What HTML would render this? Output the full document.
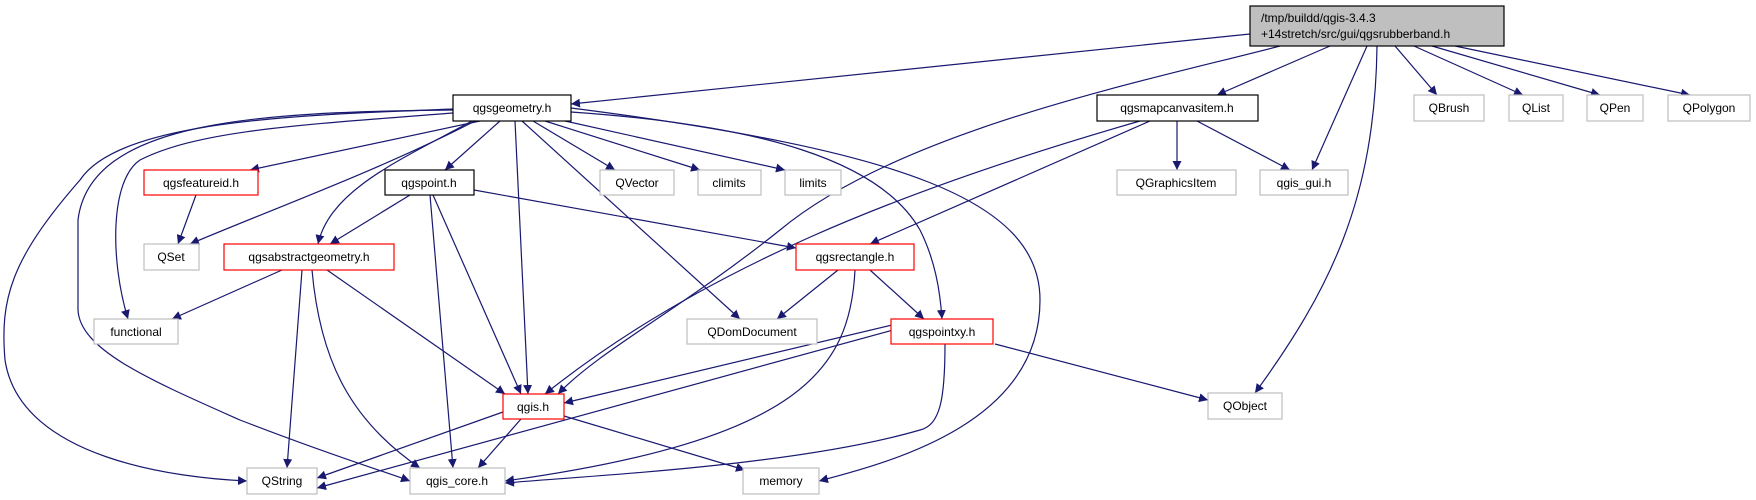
<!DOCTYPE html>
<html><head><meta charset="utf-8"><style>
html,body{margin:0;padding:0;background:#fff;}
svg{display:block;}
text{font-family:"Liberation Sans","DejaVu Sans",sans-serif;font-size:12px;fill:#000;}
.e{fill:none;stroke:#191970;stroke-width:1.2;marker-end:url(#a);}
.b{fill:#fff;stroke:#000;stroke-width:1.2;}
.g{fill:#fff;stroke:#bfbfbf;stroke-width:1.2;}
.r{fill:#fff;stroke:#ff0000;stroke-width:1.2;}
</style></head><body>
<svg width="1756" height="500" viewBox="0 0 1756 500" xmlns="http://www.w3.org/2000/svg">
<defs><marker id="a" viewBox="0 0 10 10" refX="10" refY="5" markerWidth="9" markerHeight="9" markerUnits="userSpaceOnUse" orient="auto"><path d="M0,0L10,5L0,10z" fill="#191970"/></marker></defs>
<!-- edges -->
<path class="e" d="M1250,34 L571,104"/>
<path class="e" d="M1280,46 C1150,80 900,130 780,230 C680,310 600,350 558,394"/>
<path class="e" d="M1330,46 L1217,95"/>
<path class="e" d="M1367,46 L1312,170"/>
<path class="e" d="M1377,46 C1375,200 1330,290 1255,393"/>
<path class="e" d="M1395,46 L1437,95"/>
<path class="e" d="M1414,46 L1523,95"/>
<path class="e" d="M1432,46 L1600,95"/>
<path class="e" d="M1455,46 L1690,95"/>
<path class="e" d="M1140,121 C900,190 700,270 545,394"/>
<path class="e" d="M1150,121 L870,244"/>
<path class="e" d="M1177,121 L1177,170"/>
<path class="e" d="M1197,121 L1290,170"/>
<path class="e" d="M480,121 L250,170"/>
<path class="e" d="M500,121 L445,170"/>
<path class="e" d="M475,121 C380,170 270,210 190,244"/>
<path class="e" d="M472,121 C400,160 330,190 318,244"/>
<path class="e" d="M515,121 L528,394"/>
<path class="e" d="M522,121 L740,319"/>
<path class="e" d="M533,121 L615,170"/>
<path class="e" d="M545,121 L700,170"/>
<path class="e" d="M565,121 L785,170"/>
<path class="e" d="M571,112 C760,125 880,160 920,230 C935,260 940,290 942,319"/>
<path class="e" d="M571,108 C900,150 1040,200 1040,300 C1040,420 900,460 819,481"/>
<path class="e" d="M453,109 C300,115 120,120 80,180 C10,260 0,300 5,360 C20,460 180,478 247,481"/>
<path class="e" d="M453,110 C260,112 90,120 78,220 L78,310 C80,350 150,380 240,420 C330,455 380,470 410,481"/>
<path class="e" d="M453,113 C300,125 200,130 140,160 C110,180 110,260 128,319"/>
<path class="e" d="M196,195 L178,244"/>
<path class="e" d="M410,195 L330,244"/>
<path class="e" d="M433,195 L521,394"/>
<path class="e" d="M430,195 L453,468"/>
<path class="e" d="M474,190 L796,248"/>
<path class="e" d="M282,270 L172,319"/>
<path class="e" d="M302,270 L287,468"/>
<path class="e" d="M312,270 C320,360 350,420 420,468"/>
<path class="e" d="M327,270 L505,394"/>
<path class="e" d="M838,270 L777,319"/>
<path class="e" d="M870,270 L924,319"/>
<path class="e" d="M855,270 C850,370 800,440 505,481"/>
<path class="e" d="M892,325 L564,403"/>
<path class="e" d="M893,330 L317,488"/>
<path class="e" d="M945,344 C945,400 940,425 920,430 C800,465 600,475 505,483"/>
<path class="e" d="M995,344 L1208,400"/>
<path class="e" d="M503,412 L317,478"/>
<path class="e" d="M521,419 L478,468"/>
<path class="e" d="M564,416 L745,470"/>
<!-- nodes -->
<rect x="1250" y="6" width="254" height="40" fill="#bfbfbf" stroke="#000" stroke-width="1.2"/>
<text x="1261" y="22">/tmp/buildd/qgis-3.4.3</text>
<text x="1261" y="38">+14stretch/src/gui/qgsrubberband.h</text>
<rect class="b" x="453" y="95" width="118" height="26"/><text x="512" y="112" text-anchor="middle">qgsgeometry.h</text>
<rect class="b" x="1097" y="95" width="161" height="26"/><text x="1177" y="112" text-anchor="middle">qgsmapcanvasitem.h</text>
<rect class="g" x="1414" y="95" width="70" height="26"/><text x="1449" y="112" text-anchor="middle">QBrush</text>
<rect class="g" x="1509" y="95" width="54" height="26"/><text x="1536" y="112" text-anchor="middle">QList</text>
<rect class="g" x="1587" y="95" width="56" height="26"/><text x="1615" y="112" text-anchor="middle">QPen</text>
<rect class="g" x="1668" y="95" width="82" height="26"/><text x="1709" y="112" text-anchor="middle">QPolygon</text>
<rect class="r" x="144" y="170" width="114" height="25"/><text x="201" y="187" text-anchor="middle">qgsfeatureid.h</text>
<rect class="b" x="385" y="170" width="89" height="25"/><text x="429" y="187" text-anchor="middle">qgspoint.h</text>
<rect class="g" x="600" y="170" width="74" height="25"/><text x="637" y="187" text-anchor="middle">QVector</text>
<rect class="g" x="698" y="170" width="63" height="25"/><text x="729" y="187" text-anchor="middle">climits</text>
<rect class="g" x="785" y="170" width="56" height="25"/><text x="813" y="187" text-anchor="middle">limits</text>
<rect class="g" x="1117" y="170" width="119" height="25"/><text x="1176" y="187" text-anchor="middle">QGraphicsItem</text>
<rect class="g" x="1260" y="170" width="88" height="25"/><text x="1304" y="187" text-anchor="middle">qgis_gui.h</text>
<rect class="g" x="144" y="244" width="55" height="26"/><text x="171" y="261" text-anchor="middle">QSet</text>
<rect class="r" x="224" y="244" width="170" height="26"/><text x="309" y="261" text-anchor="middle">qgsabstractgeometry.h</text>
<rect class="r" x="796" y="244" width="118" height="26"/><text x="855" y="261" text-anchor="middle">qgsrectangle.h</text>
<rect class="g" x="94" y="319" width="84" height="25"/><text x="136" y="336" text-anchor="middle">functional</text>
<rect class="g" x="687" y="319" width="130" height="25"/><text x="752" y="336" text-anchor="middle">QDomDocument</text>
<rect class="r" x="891" y="319" width="102" height="25"/><text x="942" y="336" text-anchor="middle">qgspointxy.h</text>
<rect class="r" x="503" y="394" width="61" height="25"/><text x="533" y="411" text-anchor="middle">qgis.h</text>
<rect class="g" x="1208" y="393" width="74" height="26"/><text x="1245" y="410" text-anchor="middle">QObject</text>
<rect class="g" x="247" y="468" width="70" height="26"/><text x="282" y="485" text-anchor="middle">QString</text>
<rect class="g" x="410" y="468" width="95" height="26"/><text x="457" y="485" text-anchor="middle">qgis_core.h</text>
<rect class="g" x="743" y="468" width="76" height="26"/><text x="781" y="485" text-anchor="middle">memory</text>
</svg>
</body></html>
